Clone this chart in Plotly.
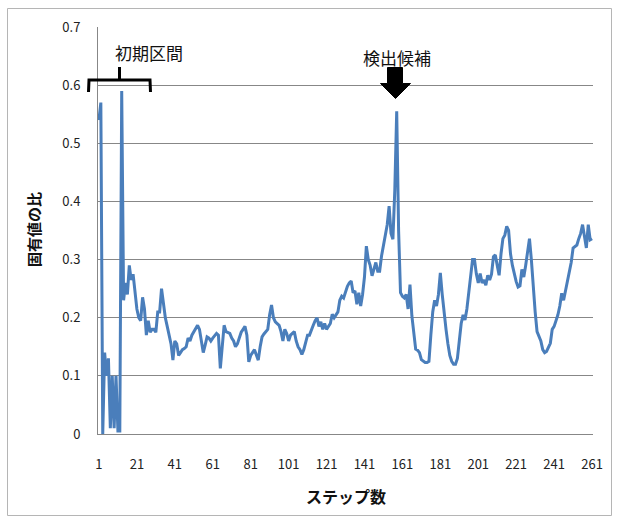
import plotly.graph_objects as go

# ---- data ----
steps = list(range(1, 262))
ratio = [
    0.54, 0.57, 0.00, 0.14, 0.10, 0.13, 0.01, 0.10, 0.01, 0.10,
    0.005, 0.005, 0.59, 0.23, 0.26, 0.24, 0.29, 0.265, 0.275, 0.245,
    0.215, 0.20, 0.195, 0.235, 0.215, 0.17, 0.195, 0.175, 0.18, 0.18,
    0.175, 0.21, 0.21, 0.25, 0.22, 0.20, 0.185, 0.17, 0.155, 0.127,
    0.16, 0.155, 0.135, 0.14, 0.145, 0.147, 0.15, 0.165, 0.16, 0.17,
    0.176, 0.18, 0.187, 0.18, 0.16, 0.14, 0.153, 0.167, 0.165, 0.16,
    0.165, 0.17, 0.173, 0.17, 0.113, 0.15, 0.187, 0.176, 0.175, 0.173,
    0.165, 0.16, 0.15, 0.155, 0.165, 0.175, 0.18, 0.185, 0.17, 0.124,
    0.135, 0.14, 0.145, 0.136, 0.127, 0.15, 0.167, 0.172, 0.176, 0.18,
    0.205, 0.222, 0.20, 0.193, 0.19, 0.187, 0.176, 0.16, 0.18, 0.173,
    0.16, 0.17, 0.173, 0.176, 0.16, 0.15, 0.145, 0.137, 0.145, 0.16,
    0.17, 0.17, 0.18, 0.187, 0.195, 0.20, 0.185, 0.193, 0.18, 0.19,
    0.18, 0.185, 0.19, 0.206, 0.20, 0.205, 0.21, 0.23, 0.237, 0.234,
    0.245, 0.254, 0.26, 0.263, 0.243, 0.246, 0.223, 0.243, 0.22, 0.24,
    0.27, 0.323, 0.30, 0.29, 0.272, 0.283, 0.295, 0.28, 0.28, 0.306,
    0.323, 0.345, 0.36, 0.392, 0.345, 0.335, 0.42, 0.555, 0.35, 0.243,
    0.237, 0.234, 0.24, 0.215, 0.257, 0.203, 0.17, 0.146, 0.144, 0.14,
    0.128, 0.125, 0.123, 0.123, 0.125, 0.17, 0.21, 0.23, 0.22, 0.24,
    0.277, 0.24, 0.205, 0.18, 0.155, 0.135, 0.125, 0.12, 0.12, 0.13,
    0.16, 0.19, 0.205, 0.196, 0.215, 0.245, 0.275, 0.30, 0.30, 0.275,
    0.26, 0.276, 0.26, 0.265, 0.256, 0.273, 0.265, 0.275, 0.305, 0.308,
    0.29, 0.273, 0.31, 0.336, 0.342, 0.357, 0.35, 0.31, 0.29, 0.275,
    0.262, 0.253, 0.255, 0.283, 0.27, 0.29, 0.318, 0.336, 0.30, 0.25,
    0.21, 0.176, 0.167, 0.16, 0.145, 0.14, 0.142, 0.15, 0.156, 0.18,
    0.185, 0.195, 0.205, 0.22, 0.242, 0.23, 0.245, 0.26, 0.276, 0.295,
    0.32, 0.322, 0.325, 0.336, 0.345, 0.36, 0.335, 0.32, 0.36, 0.334,
    0.336,
]
x_tick_vals = list(range(1, 262, 20))
y_tick_vals = [0, 0.1, 0.2, 0.3, 0.4, 0.5, 0.6, 0.7]
y_tick_text = ["0", "0.1", "0.2", "0.3", "0.4", "0.5", "0.6", "0.7"]

x_title = "ステップ数"
y_title = "固有値の比"
label_initial = "初期区間"
label_candidate = "検出候補"

# ---- layout geometry ----
FIG_W, FIG_H = 619, 522
ML, MR, MT, MB = 98, 26, 27, 88
PW = FIG_W - ML - MR
PH = FIG_H - MT - MB


def px(x):
    return (x - ML) / PW


def py(y):
    return (FIG_H - MB - y) / PH


FONT = "Noto Sans CJK JP, Noto Sans, sans-serif"
GRID = "#878787"
LINE_COLOR = "#4a7ebb"

fig = go.Figure()
fig.add_trace(go.Scatter(
    x=steps, y=ratio, mode="lines",
    line=dict(color=LINE_COLOR, width=3),
    hoverinfo="skip", showlegend=False,
))

bracket_path = (
    f"M {px(88.5)},{py(92)} L {px(89)},{py(80)} L {px(150)},{py(80)} L {px(150.5)},{py(92)} "
    f"M {px(119.5)},{py(80)} L {px(119.5)},{py(67)}"
)
arrow_path = (
    f"M {px(387.5)},{py(67.5)} L {px(402.5)},{py(67.5)} L {px(402.5)},{py(83.5)} "
    f"L {px(410.5)},{py(83.5)} L {px(395.5)},{py(98.5)} L {px(380.5)},{py(83.5)} "
    f"L {px(387.5)},{py(83.5)} Z"
)

shapes = [
    dict(type="rect", xref="paper", yref="paper",
         x0=px(7.5), x1=px(611.5), y0=py(515.5), y1=py(8.5),
         line=dict(color="#b5b5b5", width=1), fillcolor="rgba(0,0,0,0)", layer="below"),
    dict(type="path", xref="paper", yref="paper", path=bracket_path,
         line=dict(color="black", width=3)),
    dict(type="path", xref="paper", yref="paper", path=arrow_path,
         line=dict(color="black", width=1), fillcolor="black"),
]

annotations = [
    dict(text=label_initial, xref="paper", yref="paper", x=px(149), y=py(52),
         showarrow=False, xanchor="center", yanchor="middle",
         font=dict(family=FONT, size=17, color="#111")),
    dict(text=label_candidate, xref="paper", yref="paper", x=px(397), y=py(57),
         showarrow=False, xanchor="center", yanchor="middle",
         font=dict(family=FONT, size=17, color="#111")),
    dict(text=f"<b>{x_title}</b>", xref="paper", yref="paper", x=px(346), y=py(496),
         showarrow=False, xanchor="center", yanchor="middle",
         font=dict(family=FONT, size=16, color="#111")),
    dict(text=f"<b>{y_title}</b>", xref="paper", yref="paper", x=px(34), y=py(230),
         showarrow=False, xanchor="center", yanchor="middle", textangle=-90,
         font=dict(family=FONT, size=15, color="#111")),
]

fig.update_layout(
    width=FIG_W, height=FIG_H,
    margin=dict(l=ML, r=MR, t=MT, b=MB, pad=0),
    paper_bgcolor="white", plot_bgcolor="white",
    font=dict(family=FONT, color="#222"),
    shapes=shapes, annotations=annotations,
    xaxis=dict(
        range=[0.5, 261.5], tickmode="array", tickvals=x_tick_vals,
        showgrid=False, zeroline=False, showline=True,
        linecolor=GRID, linewidth=1,
        ticks="outside", ticklen=18, tickcolor="rgba(0,0,0,0)",
        tickfont=dict(family=FONT, size=13, color="#222"),
    ),
    yaxis=dict(
        range=[0, 0.7], tickmode="array", tickvals=y_tick_vals, ticktext=y_tick_text,
        showgrid=True, gridcolor=GRID, gridwidth=1, zeroline=False,
        showline=True, linecolor=GRID, linewidth=1,
        ticks="outside", ticklen=14, tickcolor="rgba(0,0,0,0)",
        tickfont=dict(family=FONT, size=13, color="#222"),
    ),
)

fig.write_html("out.html", config={"displayModeBar": False, "staticPlot": True})

# remove the default page margin so the figure sits at the window's top-left corner
with open("out.html", "r", encoding="utf-8") as f:
    html = f.read()
html = html.replace(
    "<head>",
    "<head><style>html,body{margin:0;padding:0;overflow:hidden;}</style>",
    1,
)
with open("out.html", "w", encoding="utf-8") as f:
    f.write(html)
